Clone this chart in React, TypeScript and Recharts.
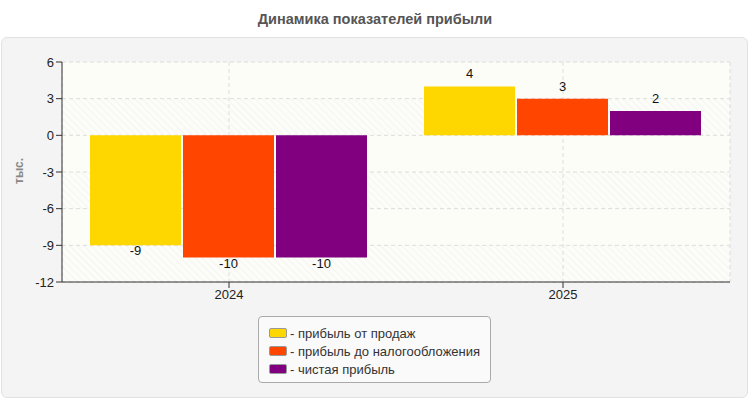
import React from 'react';
import { BarChart, Bar, XAxis, YAxis, CartesianGrid } from 'recharts';

const years = ['2024', '2025'];
const salesProfit = [-9, 4];
const preTaxProfit = [-10, 3];
const netProfit = [-10, 2];
const yTicks = [-12, -9, -6, -3, 0, 3, 6];

const series = [
  { key: 'sales', name: 'прибыль от продаж', color: '#FFD700', values: salesProfit },
  { key: 'pretax', name: 'прибыль до налогообложения', color: '#FF4500', values: preTaxProfit },
  { key: 'net', name: 'чистая прибыль', color: '#800080', values: netProfit },
];

const data = years.map((year, i) => {
  const row: Record<string, string | number> = { year };
  series.forEach((s) => {
    row[s.key] = s.values[i];
  });
  return row;
});

const FONT = 'Arial, "Liberation Sans", sans-serif';

function ValueLabel(props: any) {
  const { x, y, width, height, value } = props;
  const top = Math.min(y, y + height);
  const bottom = Math.max(y, y + height);
  const cx = x + width / 2;
  const ty = value >= 0 ? top - 8 : bottom + 10;
  return (
    <text x={cx} y={ty} textAnchor="middle" fontSize={13} fill="#111" fontFamily={FONT}>
      {value}
    </text>
  );
}

export default function App() {
  return (
    <div style={{ position: 'absolute', left: 0, top: 0, width: 750, height: 400, background: '#fff', fontFamily: FONT }}>
      <svg width={0} height={0} style={{ position: 'absolute' }}>
        <defs>
          <pattern id="hatch" width={5} height={5} patternUnits="userSpaceOnUse" patternTransform="rotate(-45)">
            <rect width={5} height={5} fill="#fcfcf8" />
            <line x1={0} y1={0} x2={0} y2={5} stroke="#f0f0ec" strokeWidth={1.2} />
          </pattern>
        </defs>
      </svg>
      <div style={{ position: 'absolute', left: 0, top: 11, width: 750, textAlign: 'center', fontSize: 14.5, fontWeight: 'bold', color: '#555' }}>
        Динамика показателей прибыли
      </div>
      <div style={{ position: 'absolute', left: 1, top: 37, width: 745, height: 359, background: '#f4f4f4', border: '1px solid #e2e2e2', borderRadius: 6 }} />
      <div style={{ position: 'absolute', left: 12, top: 168, transform: 'rotate(-90deg)', transformOrigin: 'left top', fontSize: 12, fontWeight: 'bold', color: '#888' }}>
        <div style={{ position: 'absolute', left: -16, top: 0, whiteSpace: 'nowrap' }}>тыс.</div>
      </div>
      <div style={{ position: 'absolute', left: 0, top: 0 }}>
        <BarChart
          width={750}
          height={400}
          data={data}
          margin={{ top: 62, right: 20, left: 2, bottom: 88 }}
          barCategoryGap={28}
          barGap={2}
        >
          <CartesianGrid
            stroke="#dcdcdc"
            strokeDasharray="4 3"
            horizontalFill={['#fdfdf8', 'url(#hatch)']}
            fillOpacity={1}
          />
          <XAxis
            dataKey="year"
            axisLine={{ stroke: '#333' }}
            tickLine={{ stroke: '#333' }}
            tickSize={6}
            tick={{ fill: '#222', fontSize: 13, fontFamily: FONT }}
            height={30}
          />
          <XAxis xAxisId="top" orientation="top" dataKey="year" height={0} tick={false} tickLine={false} axisLine={{ stroke: '#dddddd' }} />
          <YAxis
            domain={[-12, 6]}
            ticks={yTicks}
            interval={0}
            axisLine={{ stroke: '#333' }}
            tickLine={{ stroke: '#333' }}
            tickSize={6}
            tick={{ fill: '#222', fontSize: 13, fontFamily: FONT }}
            width={60}
          />
          <YAxis yAxisId="right" orientation="right" width={0} tick={false} tickLine={false} axisLine={{ stroke: '#dddddd' }} />
          {series.map((s) => (
            <Bar
              key={s.key}
              dataKey={s.key}
              name={s.name}
              fill={s.color}
              isAnimationActive={false}
              label={<ValueLabel />}
            />
          ))}
        </BarChart>
      </div>
      <div
        style={{
          position: 'absolute',
          left: 258,
          top: 316,
          width: 233,
          height: 67,
          background: '#fafafa',
          border: '1px solid #aaa',
          borderRadius: 4,
          boxSizing: 'border-box',
          padding: '7px 0 0 10px',
        }}
      >
        {series.map((s) => (
          <div key={s.key} style={{ display: 'flex', alignItems: 'center', height: 18, fontSize: 13, color: '#333', whiteSpace: 'nowrap' }}>
            <span
              style={{
                display: 'inline-block',
                width: 16,
                height: 8,
                background: s.color,
                border: '1px solid #999',
                borderRadius: 2,
                marginRight: 3,
              }}
            />
            - {s.name}
          </div>
        ))}
      </div>
    </div>
  );
}
